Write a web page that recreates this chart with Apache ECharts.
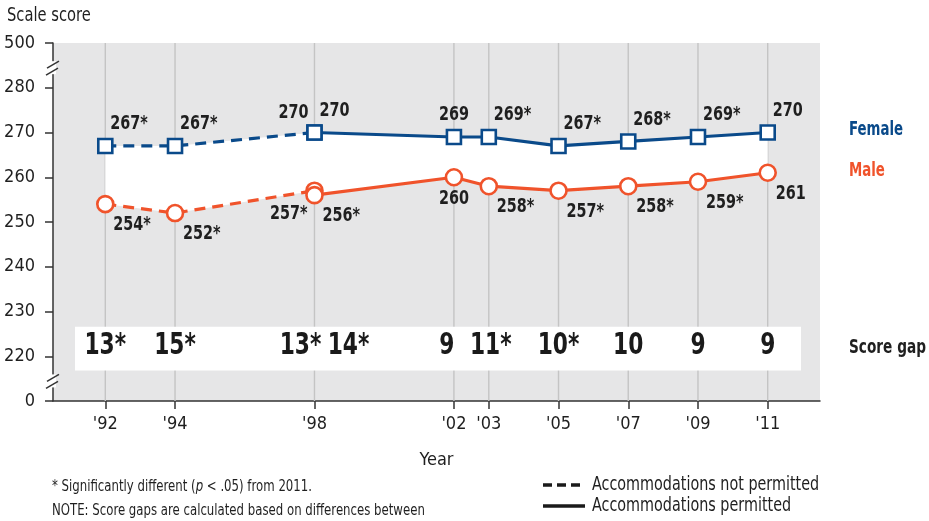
<!DOCTYPE html>
<html><head><meta charset="utf-8">
<script src="https://cdn.jsdelivr.net/npm/echarts@6/dist/echarts.min.js"></script>
<style>html,body{margin:0;padding:0;background:#fff}#c{width:929px;height:521px}</style>
</head><body><div id="c"></div>
<script>
// ---- data ----
const years = [1992, 1994, 1998, 2002, 2003, 2005, 2007, 2009, 2011];
const tickLabels = ["'92", "'94", "'98", "'02", "'03", "'05", "'07", "'09", "'11"];
const notPermYears = [1992, 1994, 1998];
const permYears = [1998, 2002, 2003, 2005, 2007, 2009, 2011];
const femaleNotPerm = [267, 267, 270];
const femaleNotPermSig = [true, true, false];
const femalePerm = [270, 269, 269, 267, 268, 269, 270];
const femalePermSig = [false, false, true, true, true, true, false];
const maleNotPerm = [254, 252, 257];
const maleNotPermSig = [true, true, true];
const malePerm = [256, 260, 258, 257, 258, 259, 261];
const malePermSig = [true, false, true, true, true, true, false];
const gapYears = [1992, 1994, 1998, 1998, 2002, 2003, 2005, 2007, 2009, 2011];
const gapLabels = ['13*', '15*', '13*', '14*', '9', '11*', '10*', '10', '9', '9'];
const yAxisMin = 210, yAxisMax = 290;
const brokenLabels = {210: '0', 290: '500'};

// ---- styles ----
const FONT = "'DejaVu Sans Condensed', 'Liberation Sans Narrow', sans-serif";
const BLUE = '#0a4a8a';
const ORANGE = '#f0532b';
const TXT = '#1f1f1f';
const SQ = 0.8; // horizontal squeeze to mimic a condensed face

const place = {
  upRight:   {align: 'left',   offset: [5, -22]},
  upLeft:    {align: 'right',  offset: [-6, -20]},
  up:        {align: 'center', offset: [0, -22]},
  downRight: {align: 'left',   offset: [8, 21]},
  downLeft:  {align: 'right',  offset: [-7, 23]},
  down:      {align: 'center', offset: [0, 22]}
};
const femaleNotPermPlace = ['upRight', 'upRight', 'upLeft'];
const femalePermPlace = ['upRight', 'up', 'upRight', 'upRight', 'upRight', 'upRight', 'upRight'];
const maleNotPermPlace = ['downRight', 'downRight', 'downLeft'];
const malePermPlace = ['downRight', 'down', 'downRight', 'downRight', 'downRight', 'downRight', 'downRight'];
const gapShift = [0, 0, -14, 34, -7, 2, 0, 0, 0, 0];

function lineSeries(ys, vs, color, dashed, symbol, size) {
  return {
    type: 'line', data: ys.map((y, i) => [y, vs[i]]), z: 5,
    symbol: symbol, symbolSize: size,
    itemStyle: {color: '#fff', borderColor: color, borderWidth: 2.6},
    lineStyle: {color: color, width: 3.2, type: dashed ? [11, 7] : 'solid'},
    emphasis: {disabled: true}, silent: true, animation: false
  };
}
function labelSeries(ys, vs, sig, pl) {
  return {
    type: 'custom', z: 6, silent: true, data: ys.map((y, i) => [y, vs[i], i]),
    renderItem: (params, api) => {
      const i = api.value(2);
      const p = api.coord([api.value(0), api.value(1)]);
      const c = place[pl[i]];
      return {type: 'text', x: p[0] + c.offset[0], y: p[1] + c.offset[1], scaleX: SQ,
        style: {text: vs[i] + (sig[i] ? '*' : ''), x: 0, y: 0, align: c.align,
                verticalAlign: 'middle', font: 'bold 20px ' + FONT, fill: TXT}};
    }
  };
}

// band polygon between female and male
const topLine = notPermYears.map((y, i) => [y, femaleNotPerm[i]])
  .concat(permYears.slice(1).map((y, i) => [y, femalePerm[i + 1]]));
const bottomLine = notPermYears.map((y, i) => [y, maleNotPerm[i]])
  .concat(permYears.map((y, i) => [y, malePerm[i]]));
const bandPoly = topLine.concat(bottomLine.slice().reverse());

const chart = echarts.init(document.getElementById('c'), null, {renderer: 'canvas'});
const option = {
  animation: false,
  backgroundColor: '#fff',
  grid: {left: 53, right: 109, top: 43, bottom: 120, show: true,
         backgroundColor: '#e6e6e7', borderWidth: 0},
  xAxis: {
    type: 'value', min: 1990.5, max: 2012.5,
    name: 'Year', nameLocation: 'middle', nameGap: 50,
    nameTextStyle: {fontFamily: FONT, fontSize: 18, color: TXT},
    axisLine: {show: true, lineStyle: {color: '#333', width: 1.5}},
    axisTick: {show: true, length: 8, customValues: years, lineStyle: {color: '#333', width: 1.5}},
    axisLabel: {customValues: years, margin: 14,
      formatter: v => tickLabels[years.indexOf(v)],
      fontFamily: FONT, fontSize: 18, color: TXT},
    splitLine: {show: false}
  },
  yAxis: {
    type: 'value', min: yAxisMin, max: yAxisMax, interval: 10,
    axisLine: {show: true, lineStyle: {color: '#333', width: 1.5}},
    axisTick: {show: true, length: 8, lineStyle: {color: '#333', width: 1.5}},
    axisLabel: {margin: 18, formatter: v => brokenLabels[v] !== undefined ? brokenLabels[v] : String(v),
      fontFamily: FONT, fontSize: 18, color: TXT},
    splitLine: {show: false}
  },
  series: [
    { // vertical gridlines
      type: 'custom', z: 1, silent: true, data: years.map(y => [y]),
      renderItem: (params, api) => {
        const cs = params.coordSys;
        const x = api.coord([api.value(0), 250])[0];
        return {type: 'line', shape: {x1: x, y1: cs.y, x2: x, y2: cs.y + cs.height},
                style: {stroke: '#c4c4c4', lineWidth: 1.4}};
      }
    },
    { // white band between series
      type: 'custom', z: 2, silent: true, data: [[0]],
      renderItem: (params, api) => ({
        type: 'polygon', shape: {points: bandPoly.map(p => api.coord(p))},
        style: {fill: '#fff'}
      })
    },
    { // score gap band
      type: 'custom', z: 2, silent: true, data: [[0]],
      renderItem: (params, api) => {
        const cs = params.coordSys;
        const y1 = api.coord([2000, 226.6])[1], y2 = api.coord([2000, 216.8])[1];
        return {type: 'rect', shape: {x: cs.x + 22, y: y1, width: cs.width - 41, height: y2 - y1},
                style: {fill: '#fff'}};
      }
    },
    { // score gap labels
      type: 'custom', z: 3, silent: true, data: gapYears.map((y, i) => [y, i]),
      renderItem: (params, api) => {
        const i = api.value(1);
        const p = api.coord([api.value(0), 222.2]);
        return {type: 'text', x: p[0] + gapShift[i], y: p[1], scaleX: 0.78,
                style: {text: gapLabels[i], x: 0, y: 0,
                align: 'center', verticalAlign: 'middle',
                font: 'bold 31px ' + FONT, fill: '#1a1a1a'}};
      }
    },
    lineSeries(notPermYears, femaleNotPerm, BLUE, true, 'rect', 14),
    lineSeries(permYears, femalePerm, BLUE, false, 'rect', 14),
    lineSeries(notPermYears, maleNotPerm, ORANGE, true, 'circle', 16),
    lineSeries(permYears, malePerm, ORANGE, false, 'circle', 16),
    labelSeries(notPermYears, femaleNotPerm, femaleNotPermSig, femaleNotPermPlace),
    labelSeries(permYears, femalePerm, femalePermSig, femalePermPlace),
    labelSeries(notPermYears, maleNotPerm, maleNotPermSig, maleNotPermPlace),
    labelSeries(permYears, malePerm, malePermSig, malePermPlace)
  ]
};
chart.setOption(option);

// axis break marks + annotations
function brk(val) {
  const p = chart.convertToPixel({gridIndex: 0}, [1990.5, val]);
  const x = p[0], y = p[1];
  return [
    {type: 'rect', shape: {x: x - 3, y: y - 6, width: 6, height: 13}, style: {fill: '#fff'}, z: 100},
    {type: 'line', shape: {x1: x - 6, y1: y + 1, x2: x + 6, y2: y - 6}, style: {stroke: '#333', lineWidth: 1.5}, z: 101},
    {type: 'line', shape: {x1: x - 7, y1: y + 8, x2: x + 5, y2: y + 1}, style: {stroke: '#333', lineWidth: 1.5}, z: 101}
  ];
}
const txt = (text, x, y, font, fill, sx) => ({type: 'text', z: 100, x: x, y: y, scaleX: sx || SQ,
  style: {text: text, x: 0, y: 0, font: font, fill: fill || TXT, verticalAlign: 'middle'}});
chart.setOption({graphic: [].concat(
  brk(284.6), brk(214.6),
  [
    txt('Scale score', 7, 16, '19px ' + FONT, TXT, 0.86),
    txt('Female', 849, 130, 'bold 19px ' + FONT, BLUE, 0.78),
    txt('Male', 849, 171, 'bold 19px ' + FONT, ORANGE, 0.78),
    txt('Score gap', 849, 348, 'bold 19px ' + FONT, TXT, 0.8),
    {type: 'text', z: 100, x: 52, y: 487, scaleX: 0.87, style: {x: 0, y: 0, verticalAlign: 'middle',
      text: '* Significantly different ({i|p} < .05) from 2011.',
      font: '15px ' + FONT, fill: TXT,
      rich: {i: {fontStyle: 'italic', fontFamily: FONT, fontSize: 15, fill: TXT}}}},
    txt('NOTE: Score gaps are calculated based on differences between', 52, 511, '15px ' + FONT, TXT, 0.87),
    {type: 'line', z: 100, shape: {x1: 543, y1: 485, x2: 585, y2: 485}, style: {stroke: '#1a1a1a', lineWidth: 3.5, lineDash: [9, 5]}},
    {type: 'line', z: 100, shape: {x1: 543, y1: 506, x2: 585, y2: 506}, style: {stroke: '#1a1a1a', lineWidth: 3.5}},
    txt('Accommodations not permitted', 592, 485, '19px ' + FONT, TXT, 0.84),
    txt('Accommodations permitted', 592, 506, '19px ' + FONT, TXT, 0.84)
  ]
)});
</script>
</body></html>
